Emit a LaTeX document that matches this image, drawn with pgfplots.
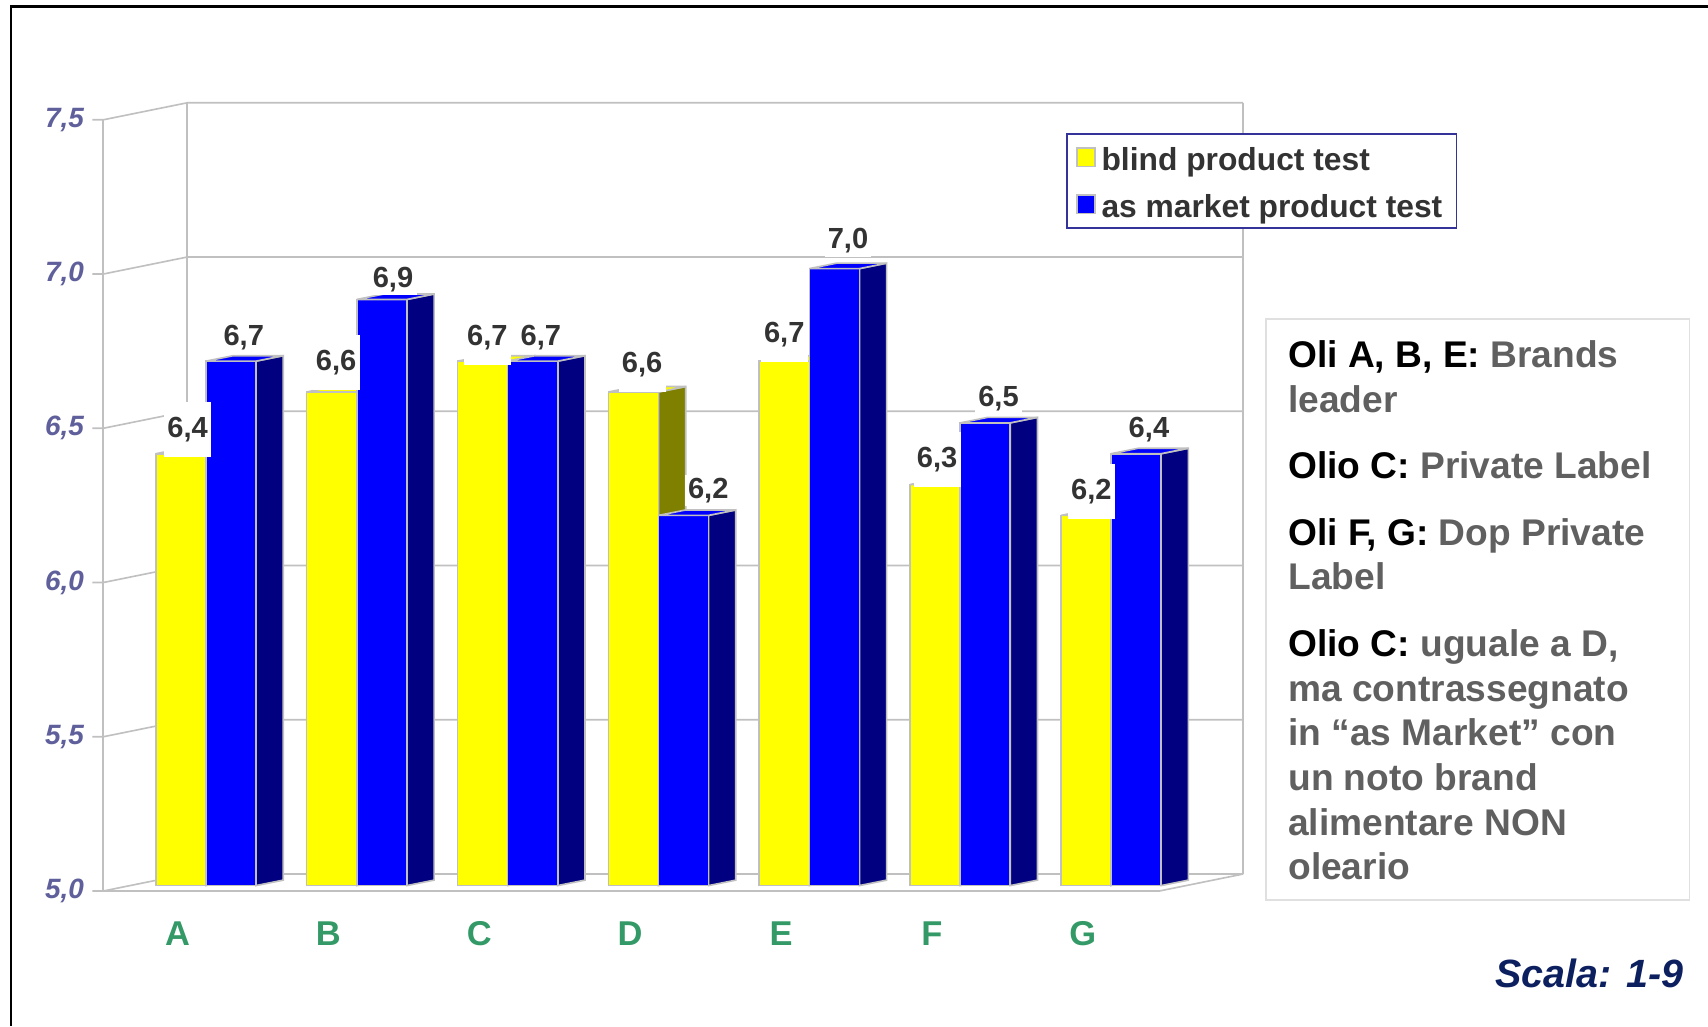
\documentclass[border=0pt]{standalone}
\usepackage{pgfplots}
\pgfplotsset{compat=1.18}
\usepackage{pgfplotstable}
\usepackage{fontspec}
\setmainfont{Liberation Sans}
\definecolor{barYellow}{RGB}{255,255,0}
\definecolor{barOlive}{RGB}{128,128,0}
\definecolor{barBlue}{RGB}{0,0,255}
\definecolor{barNavy}{RGB}{0,0,128}
\definecolor{edgeGray}{RGB}{192,192,192}
\definecolor{gridGray}{RGB}{192,192,192}
\definecolor{tickBlue}{RGB}{95,95,155}
\definecolor{catGreen}{RGB}{51,153,102}
\definecolor{valDark}{RGB}{51,51,51}
\definecolor{legBlue}{RGB}{51,51,153}
\definecolor{noteGray}{RGB}{96,96,96}
\definecolor{boxGray}{RGB}{224,224,224}
\definecolor{scalaNavy}{RGB}{12,31,95}

\pgfdeclareplotmark{empty}{}

% i = category, v = value, lx/ly = label offset (in 0.1 mm)
\pgfplotstableread{
i v   lx  ly
0 6.4 6.3 26.3
1 6.6 4.1 31
2 6.7 4.5 26
3 6.6 8.0 29
4 6.7 0.0 28.2
5 6.3 1.8 26.9
6 6.2 5.0 26.2
}\blindtab
\pgfplotstableread{
i v   lx   ly
0 6.7 11.8 26
1 6.9 10.3 22.5
2 6.7 7.6  26
3 6.2 22.7 26.8
4 7.0 12.5 29.3
5 6.5 12.2 26
6 6.4 11.8 26
}\markettab

\tikzset{
  fr/.style={xshift=-2.5mm,yshift=-0.5mm},
  bk/.style={xshift=5.2mm,yshift=1.06mm},
}

\begin{document}
\begin{tikzpicture}
\draw[black, line width=0.25mm] (1.0mm,0) -- (1.0mm,93.6mm) -- (156.8mm,93.6mm);

\begin{axis}[
  at={(11.975mm,12.9mm)}, anchor=south west,
  scale only axis, width=96.95mm, height=70.8mm,
  xmin=-0.5, xmax=6.5, ymin=0, ymax=2.5,
  clip=false, set layers,
  axis line style={draw=none},
  tick style={draw=none},
  major tick length=0pt,
  xtick={0,1,2,3,4,5,6}, xticklabels={A,B,C,D,E,F,G},
  ytick={0,0.5,1,1.5,2,2.5},
  yticklabels={{5,0},{5,5},{6,0},{6,5},{7,0},{7,5}},
  xticklabel style={anchor=center, xshift=-2.6mm, yshift=-4.4mm,
    font=\fontsize{9}{10.8}\selectfont\bfseries, text=catGreen},
  yticklabel style={anchor=east, inner sep=0pt, xshift=-4.2mm, yshift=-0.5mm,
    font=\fontsize{7.3}{8.8}\selectfont\bfseries\itshape, text=tickBlue},
  legend style={at={(axis description cs:0.8863,0.976)}, anchor=north west,
    draw=legBlue, line width=0.15mm, fill=white,
    font=\fontsize{8.3}{10}\selectfont\bfseries, text=valDark,
    inner xsep=0.8mm, inner ysep=0.6mm, row sep=3.5pt,
    nodes={inner xsep=0.5mm, inner ysep=0.2mm, text height=2.6mm, text depth=0.1mm}},
  legend cell align=left,
]
\begin{pgfonlayer}{axis background}
  \pgfplotsinvokeforeach{0,0.5,1,1.5,2,2.5}{
    \draw[gridGray, line width=0.15mm]
      ([xshift=-3.5mm,yshift=-0.5mm]axis cs:-0.5,#1) -- ([fr]axis cs:-0.5,#1)
      -- ([bk]axis cs:-0.5,#1) -- ([bk]axis cs:6.5,#1);
  }
  \draw[gridGray, line width=0.15mm] ([fr]axis cs:-0.5,0) -- ([fr]axis cs:-0.5,2.5);
  \draw[gridGray, line width=0.15mm] ([bk]axis cs:-0.5,0) -- ([bk]axis cs:-0.5,2.5);
  \draw[gridGray, line width=0.15mm] ([bk]axis cs:6.5,0) -- ([bk]axis cs:6.5,2.5);
  \draw[gridGray, line width=0.15mm] ([fr]axis cs:-0.5,0) -- ([fr]axis cs:6.5,0) -- ([bk]axis cs:6.5,0);
\end{pgfonlayer}

% blind product test: front faces
\addplot[ybar, bar width=4.6mm, bar shift=-2.3mm, fill=barYellow, draw=edgeGray, line width=0.15mm,
  legend image code/.code={\draw[fill=barYellow, draw=edgeGray, line width=0.15mm] (0mm,-0.85mm) rectangle (1.7mm,0.85mm);}]
  table[x=i, y expr=\thisrow{v}-5] {\blindtab};
\addlegendentry{blind product test}
% as market product test: front faces
\addplot[ybar, bar width=4.6mm, bar shift=2.3mm, fill=barBlue, draw=edgeGray, line width=0.15mm,
  legend image code/.code={\draw[fill=barBlue, draw=edgeGray, line width=0.15mm] (0mm,-0.85mm) rectangle (1.7mm,0.85mm);}]
  table[x=i, y expr=\thisrow{v}-5] {\markettab};
\addlegendentry{as market product test}

% blind: 3D bar (front, side, top)
\addplot[forget plot, only marks, mark=empty, scatter,
  visualization depends on={\thisrow{v} \as \val},
  scatter/@pre marker code/.code={%
    \pgfmathsetmacro\H{(\val-5)*80.578}%
    \filldraw[fill=barOlive, draw=edgeGray, line width=0.15mm] (0pt,0pt) -- (2.5mm,0.5mm) -- (2.5mm,{0.5mm-\H pt}) -- (0pt,-\H pt) -- cycle;
    \filldraw[fill=barYellow, draw=edgeGray, line width=0.15mm] (-4.6mm,0pt) rectangle (0pt,-\H pt);
    \filldraw[fill=barYellow, draw=edgeGray, line width=0.15mm] (-4.6mm,0pt) -- (-2.1mm,0.5mm) -- (2.5mm,0.5mm) -- (0pt,0pt) -- cycle;
  },
  scatter/@post marker code/.code={}]
  table[x=i, y expr=\thisrow{v}-5] {\blindtab};
% as market: 3D bar (front, side, top)
\addplot[forget plot, only marks, mark=empty, scatter,
  visualization depends on={\thisrow{v} \as \val},
  scatter/@pre marker code/.code={%
    \pgfmathsetmacro\H{(\val-5)*80.578}%
    \filldraw[fill=barNavy, draw=edgeGray, line width=0.15mm] (4.6mm,0pt) -- (7.1mm,0.5mm) -- (7.1mm,{0.5mm-\H pt}) -- (4.6mm,-\H pt) -- cycle;
    \filldraw[fill=barBlue, draw=edgeGray, line width=0.15mm] (0pt,0pt) rectangle (4.6mm,-\H pt);
    \filldraw[fill=barBlue, draw=edgeGray, line width=0.15mm] (0pt,0pt) -- (2.5mm,0.5mm) -- (7.1mm,0.5mm) -- (4.6mm,0pt) -- cycle;
  },
  scatter/@post marker code/.code={}]
  table[x=i, y expr=\thisrow{v}-5] {\markettab};

% value labels
\addplot[forget plot, only marks, mark=empty, point meta=explicit,
  visualization depends on={\thisrow{lx} \as \labx},
  visualization depends on={\thisrow{ly} \as \laby},
  nodes near coords={\pgfmathprintnumber[fixed,fixed zerofill,precision=1,use comma,assume math mode=true]{\pgfplotspointmeta}},
  nodes near coords style={anchor=center, xshift={(\labx-23)*0.28453pt}, yshift={(\laby-4)*0.28453pt},
    fill=white, inner xsep=0.3mm, inner ysep=1.4mm,
    font=\fontsize{7.6}{9}\selectfont\bfseries, text=valDark}]
  table[x=i, y expr=\thisrow{v}-5, meta=v] {\blindtab};
\addplot[forget plot, only marks, mark=empty, point meta=explicit,
  visualization depends on={\thisrow{lx} \as \labx},
  visualization depends on={\thisrow{ly} \as \laby},
  nodes near coords={\pgfmathprintnumber[fixed,fixed zerofill,precision=1,use comma,assume math mode=true]{\pgfplotspointmeta}},
  nodes near coords style={anchor=center, xshift={(\labx+23)*0.28453pt}, yshift={(\laby-4)*0.28453pt},
    fill=white, inner xsep=0.3mm, inner ysep=0.3mm,
    font=\fontsize{7.6}{9}\selectfont\bfseries, text=valDark}]
  table[x=i, y expr=\thisrow{v}-5, meta=v] {\markettab};
\end{axis}

\draw[boxGray, line width=0.15mm] (116.2mm,11.6mm) rectangle (155.1mm,64.9mm);
\node[anchor=north west, inner sep=0pt, align=left,
  font=\fontsize{9.7}{11.67}\selectfont\bfseries, text=noteGray] at (118.2mm,63.0mm) {%
  \textcolor{black}{Oli A, B, E}\textcolor{black}{:} Brands\\
  leader\\[5.7pt]
  \textcolor{black}{Olio C}\textcolor{black}{:} Private Label\\[5.7pt]
  \textcolor{black}{Oli F, G}\textcolor{black}{:} Dop Private\\
  Label\\[5.7pt]
  \textcolor{black}{Olio C}\textcolor{black}{:} uguale a D,\\
  ma contrassegnato\\
  in “as Market” con\\
  un noto brand\\
  alimentare NON\\
  oleario};
\node[anchor=east, inner sep=0pt, font=\fontsize{10.3}{12}\selectfont\bfseries\itshape, text=scalaNavy]
  at (154.6mm,4.8mm) {Scala: 1-9};
\pgfresetboundingbox
\useasboundingbox (0,0) rectangle (156.8mm,94.2mm);
\end{tikzpicture}
\end{document}
